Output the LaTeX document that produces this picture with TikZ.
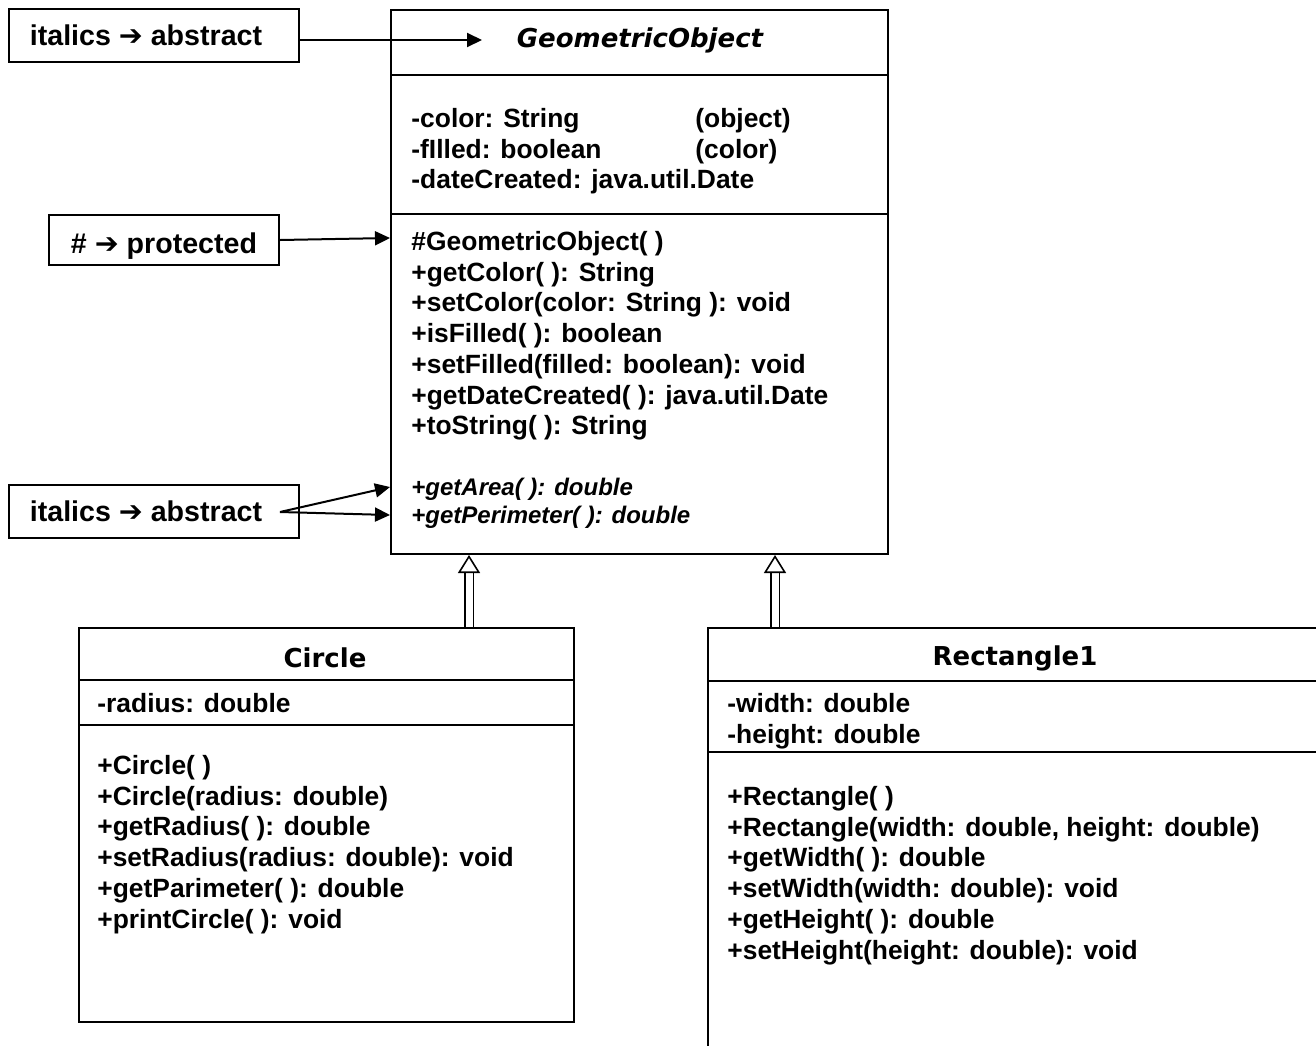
\documentclass[tikz,border=0pt]{standalone}
\usepackage{fontspec}
\setmainfont{Liberation Sans}
\newfontfamily\headfont{DejaVu Sans}
\newfontfamily\arrfont{DejaVu Sans}
\usetikzlibrary{arrows.meta}

\tikzset{
  classbox/.style={draw, line width=1pt, anchor=north west, inner sep=0pt},
  sep/.style={line width=1pt},
  title/.style={inner sep=0pt, font=\fontsize{13}{15}\selectfont\headfont\bfseries},
  members/.style={anchor=north west, inner sep=0pt, align=left,
    font=\fontsize{13.2}{15.35}\selectfont\bfseries},
  abstracts/.style={members, font=\fontsize{12}{14}\selectfont\bfseries\itshape},
  note/.style={draw, line width=1pt, inner sep=0pt, minimum width=145pt,
    minimum height=26.5pt, font=\fontsize{14.3}{15}\selectfont\bfseries},
  ptr/.style={line width=1pt, -{Triangle[length=7.5pt,width=7pt]}},
  inh/.style={double, double distance=3.5pt, line width=0.8pt,
    -{Triangle[open,length=9pt,width=11pt]}}
}

\begin{document}
\begin{tikzpicture}[x=0.5pt,y=-0.5pt]
  \useasboundingbox (0,0) rectangle (1316,1045);

  % GeometricObject
  \node[classbox, minimum width=248.5pt, minimum height=272pt] (go) at (390,9) {};
  \draw[sep] (go.west |- 0,75) -- (go.east |- 0,75);
  \draw[sep] (go.west |- 0,214) -- (go.east |- 0,214);
  \node[title] (goName) at (640,40) {\itshape GeometricObject};
  \node[members] (goAttr) at (411,108) {\makebox[142pt][l]{-color: String}(object)\\
    \makebox[142pt][l]{-fIlled: boolean}(color)\\
    -dateCreated: java.util.Date};
  \node[members] (goOps) at (411,231) {\#GeometricObject( )\\
    +getColor( ): String\\
    +setColor(color: String ): void\\
    +isFilled( ): boolean\\
    +setFilled(filled: boolean): void\\
    +getDateCreated( ): java.util.Date\\
    +toString( ): String};
  \node[abstracts] (goAbs) at (411,478) {+getArea( ): double\\
    +getPerimeter( ): double};

  % Circle
  \node[classbox, minimum width=247.5pt, minimum height=197pt] (circ) at (78,627) {};
  \draw[sep] (circ.west |- 0,680) -- (circ.east |- 0,680);
  \draw[sep] (circ.west |- 0,725) -- (circ.east |- 0,725);
  \node[title] (circName) at (325,658) {Circle};
  \node[members] (circAttr) at (97,693) {-radius: double};
  \node[members] (circOps) at (97,755) {+Circle( )\\
    +Circle(radius: double)\\
    +getRadius( ): double\\
    +setRadius(radius: double): void\\
    +getParimeter( ): double\\
    +printCircle( ): void};

  % Rectangle1
  \node[classbox, minimum width=309pt, minimum height=216.5pt] (rect) at (707,627) {};
  \draw[sep] (rect.west |- 0,681) -- (rect.east |- 0,681);
  \draw[sep] (rect.west |- 0,752) -- (rect.east |- 0,752);
  \node[title] (rectName) at (1015,658) {Rectangle1};
  \node[members] (rectAttr) at (727,693) {-width: double\\
    -height: double};
  \node[members] (rectOps) at (727,786) {+Rectangle( )\\
    +Rectangle(width: double, height: double)\\
    +getWidth( ): double\\
    +setWidth(width: double): void\\
    +getHeight( ): double\\
    +setHeight(height: double): void};

  % notes
  \node[note] (lab1) at (154,35.5) {\hspace*{-8pt}italics {\arrfont ➔} abstract};
  \node[note, minimum width=115pt, minimum height=25pt] (lab2) at (164,240)
    {\smash{\raisebox{-6.5pt}{\# {\arrfont ➔} protected}}};
  \node[note] (lab3) at (154,511.5) {\hspace*{-8pt}italics {\arrfont ➔} abstract};

  \coordinate (goTip) at (482,40);
  \coordinate (ctorTip) at (390,238);
  \coordinate (lab3out) at (280,512);
  \coordinate (areaTip) at (390,487);
  \coordinate (perimTip) at (390,515);
  \draw[ptr] (lab1.east |- goTip) -- (goTip);
  \draw[ptr] (lab2.east) -- (ctorTip);
  \draw[ptr] (lab3out) -- (areaTip);
  \draw[ptr] (lab3out) -- (perimTip);

  % inheritance
  \coordinate (circUp) at (469,627);
  \coordinate (rectUp) at (775,627);
  \draw[inh] (circUp) -- (circUp |- go.south);
  \draw[inh] (rectUp) -- (rectUp |- go.south);
\end{tikzpicture}
\end{document}
